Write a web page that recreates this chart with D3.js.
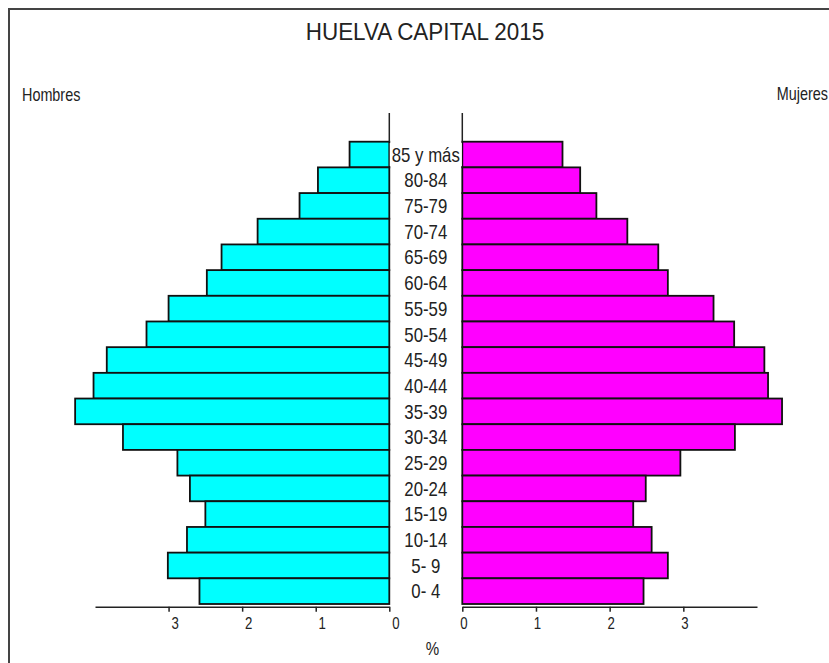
<!DOCTYPE html>
<html>
<head>
<meta charset="utf-8">
<script src="https://cdn.jsdelivr.net/npm/d3@7"></script>
<style>
  body { margin: 0; background: #fff; }
  text { font-family: "Liberation Sans", Arial, sans-serif; fill: #222; }
</style>
</head>
<body>
<svg id="chart" width="829" height="663"></svg>
<script>
// grupos de edad, de arriba abajo
const ageGroups = ["85 y más", "80-84", "75-79", "70-74", "65-69", "60-64", "55-59", "50-54",
  "45-49", "40-44", "35-39", "30-34", "25-29", "20-24", "15-19", "10-14", "5- 9", "0- 4"]

// % de la población
const hombres = [0.54, 0.97, 1.22, 1.79, 2.28, 2.48, 3.00, 3.30, 3.84, 4.02, 4.27, 3.62, 2.88, 2.71, 2.50, 2.75, 3.01, 2.58]
const mujeres = [1.36, 1.60, 1.82, 2.24, 2.66, 2.79, 3.41, 3.69, 4.10, 4.15, 4.34, 3.70, 2.96, 2.49, 2.32, 2.57, 2.79, 2.46]

const tickValues = [0, 1, 2, 3]
const axisMax = 4

const svg = d3.select("#chart")
const sx = 0.84 // the reference text is horizontally narrow

// marco
svg.append("rect")
  .attr("x", 9).attr("y", 9)
  .attr("width", 840).attr("height", 680)
  .attr("fill", "none").attr("stroke", "#444").attr("stroke-width", 2)

const y = d3.scaleBand()
  .domain(ageGroups)
  .range([141.7, 604])
  .padding(0)

const xLeft = d3.scaleLinear().domain([0, axisMax]).range([389.3, 95])
const xRight = d3.scaleLinear().domain([0, axisMax]).range([462.3, 757])

const narrowText = (sel, x, yy, txt, size, anchor, scale) => {
  return sel.append("text")
    .attr("transform", `translate(${x},${yy}) scale(${scale || sx},1)`)
    .attr("text-anchor", anchor || "middle")
    .style("font-size", size + "px")
    .text(txt)
}

// titulo
narrowText(svg, 425, 40, "HUELVA CAPITAL 2015", 24, "middle", 0.935)

narrowText(svg, 22, 101, "Hombres", 18, "start", 0.8)
narrowText(svg, 828, 100, "Mujeres", 18, "end", 0.8)

// barras
svg.append("g")
  .selectAll("rect")
  .data(hombres)
  .join("rect")
  .attr("x", d => xLeft(d))
  .attr("y", (d, i) => y(ageGroups[i]))
  .attr("width", d => xLeft(0) - xLeft(d))
  .attr("height", y.bandwidth())
  .attr("fill", "#00FFFF")
  .attr("stroke", "#111")
  .attr("stroke-width", 1.8)

svg.append("g")
  .selectAll("rect")
  .data(mujeres)
  .join("rect")
  .attr("x", xRight(0))
  .attr("y", (d, i) => y(ageGroups[i]))
  .attr("width", d => xRight(d) - xRight(0))
  .attr("height", y.bandwidth())
  .attr("fill", "#FF00FF")
  .attr("stroke", "#111")
  .attr("stroke-width", 1.8)

// lineas verticales sobre el hueco central
;[xLeft(0), xRight(0)].forEach(xx => {
  svg.append("line")
    .attr("x1", xx).attr("x2", xx)
    .attr("y1", 113).attr("y2", y.range()[0])
    .attr("stroke", "#222").attr("stroke-width", 1.5)
})

// etiquetas de edad con caja blanca
const labels = svg.append("g")
ageGroups.forEach(g => {
  const cx = (xLeft(0) + xRight(0)) / 2
  const cy = y(g) + y.bandwidth() / 2
  const box = labels.append("rect").attr("fill", "#fff")
  const t = narrowText(labels, cx, cy + 7.2, g, 20)
  const w = t.node().getComputedTextLength() * sx + 4
  box.attr("x", cx - w / 2).attr("y", cy - 11.5).attr("width", w).attr("height", 23)
})

// ejes
const styleAxis = (g, dx) => {
  g.select(".domain").attr("stroke", "#222").attr("stroke-width", 1.5)
  g.selectAll(".tick line").attr("stroke", "#222").attr("stroke-width", 1.5)
  g.selectAll(".tick text")
    .attr("y", 0).attr("dy", 0)
    .attr("transform", `translate(${dx},22) scale(0.8,1)`)
    .style("font-size", "16.5px")
    .style("font-family", "'Liberation Sans', Arial, sans-serif")
    .attr("fill", "#222")
}

svg.append("g")
  .attr("transform", "translate(0,606.7)")
  .call(d3.axisBottom(xLeft).tickValues(tickValues).tickSize(5).tickSizeOuter(0).tickFormat(d3.format("d")))
  .call(g => styleAxis(g, 6))

svg.append("g")
  .attr("transform", "translate(0,606.7)")
  .call(d3.axisBottom(xRight).tickValues(tickValues).tickSize(5).tickSizeOuter(0).tickFormat(d3.format("d")))
  .call(g => styleAxis(g, 1))

narrowText(svg, 432.5, 655, "%", 18)
</script>
</body>
</html>
